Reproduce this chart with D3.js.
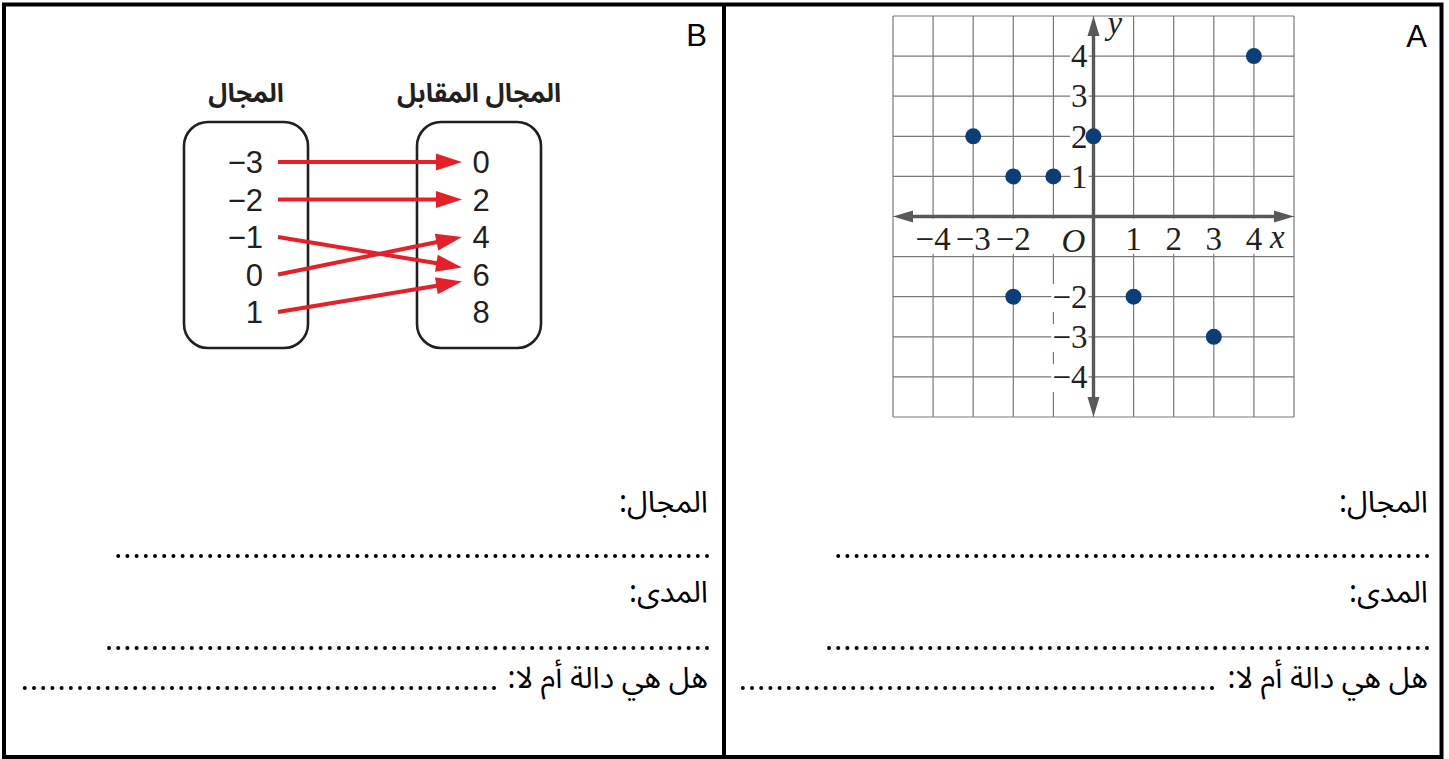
<!DOCTYPE html>
<html lang="ar">
  <head>
    <meta charset="UTF-8" />
    <title>Domain and range worksheet</title>
    <script src="https://d3js.org/d3.v7.min.js"></script>
    <style>
      body {
        margin: 0;
        background: #fff;
      }
      svg {
        display: block;
        background: #fff;
      }
      .arabic {
        font-family: 'Noto Sans Arabic', 'DejaVu Sans', sans-serif;
      }
      .serif {
        font-family: 'Liberation Serif', 'DejaVu Serif', serif;
      }
      .sans {
        font-family: 'Liberation Sans', Arial, sans-serif;
      }
    </style>
  </head>
  <body>
    <svg width="1449" height="759"></svg>

    <script>
      // Panel A: plotted points
      const pointsX = [-3, -2, -1, 0, 4, -2, 1, 3];
      const pointsY = [2, 1, 1, 2, 4, -2, -2, -3];
      const xTickLabels = [-4, -3, -2, 1, 2, 3, 4];
      const yTickLabels = [4, 3, 2, 1, -2, -3, -4];
      const gridValues = d3.range(-5, 6);

      // Panel B: mapping diagram
      const domainValues = [-3, -2, -1, 0, 1];
      const rangeValues = [0, 2, 4, 6, 8];
      const mapFrom = [-3, -2, -1, 0, 1];
      const mapTo = [0, 2, 6, 4, 6];

      // Worksheet text
      const titleDomain = 'المجال';
      const titleCodomain = 'المجال المقابل';
      const lblDomain = 'المجال:';
      const lblRange = 'المدى:';
      const lblFunction = 'هل هي دالة أم لا:';

      const fmt = (v) => (v < 0 ? '\u2212' + Math.abs(v) : String(v));

      const svg = d3.select('svg');

      // frame
      svg
        .append('rect')
        .attr('x', 4)
        .attr('y', 4.5)
        .attr('width', 1437.5)
        .attr('height', 752.5)
        .attr('fill', 'none')
        .attr('stroke', '#000')
        .attr('stroke-width', 4);
      svg
        .append('line')
        .attr('x1', 724)
        .attr('x2', 724)
        .attr('y1', 4)
        .attr('y2', 757)
        .attr('stroke', '#000')
        .attr('stroke-width', 4);

      svg
        .append('text')
        .attr('class', 'sans')
        .attr('x', 1427)
        .attr('y', 47)
        .attr('text-anchor', 'end')
        .attr('font-size', 31)
        .text('A');
      svg
        .append('text')
        .attr('class', 'sans')
        .attr('x', 707)
        .attr('y', 46)
        .attr('text-anchor', 'end')
        .attr('font-size', 31)
        .text('B');

      // ---------- Panel A: coordinate plane ----------
      const x = d3.scaleLinear().domain([-5, 5]).range([893, 1294]);
      const y = d3.scaleLinear().domain([-5, 5]).range([417, 16]);
      const gA = svg.append('g');

      gA.selectAll('line.gx')
        .data(gridValues)
        .join('line')
        .attr('x1', (d) => x(d))
        .attr('x2', (d) => x(d))
        .attr('y1', y(-5))
        .attr('y2', y(5))
        .attr('stroke', '#77787b')
        .attr('stroke-width', 1.2);
      gA.selectAll('line.gy')
        .data(gridValues)
        .join('line')
        .attr('y1', (d) => y(d))
        .attr('y2', (d) => y(d))
        .attr('x1', x(-5))
        .attr('x2', x(5))
        .attr('stroke', '#77787b')
        .attr('stroke-width', 1.2);

      // white band under x labels
      gA.append('rect')
        .attr('x', x(-4.85))
        .attr('y', y(0) + 2)
        .attr('width', x(4.85) - x(-4.85))
        .attr('height', y(-0.93) - y(0) - 2)
        .attr('fill', '#fff');

      // axes with arrowheads
      const axisCol = '#58595b';
      const head = 20,
        half = 6;
      gA.append('line')
        .attr('x1', x(-5) + head - 2)
        .attr('x2', x(5) - head + 2)
        .attr('y1', y(0))
        .attr('y2', y(0))
        .attr('stroke', axisCol)
        .attr('stroke-width', 3.4);
      gA.append('line')
        .attr('y1', y(5) + head - 2)
        .attr('y2', y(-5) - head + 2)
        .attr('x1', x(0))
        .attr('x2', x(0))
        .attr('stroke', axisCol)
        .attr('stroke-width', 3.4);
      const arrows = [
        [x(-5), y(0), 1, 0],
        [x(5), y(0), -1, 0],
        [x(0), y(5), 0, 1],
        [x(0), y(-5), 0, -1],
      ];
      gA.selectAll('path.ah')
        .data(arrows)
        .join('path')
        .attr('d', ([tx, ty, dx, dy]) => {
          const bx = tx + dx * head,
            by = ty + dy * head;
          return `M${tx},${ty}L${bx - dy * half},${by + dx * half}L${bx + dy * half},${by - dx * half}Z`;
        })
        .attr('fill', axisCol);

      // y tick labels with white backing
      const yl = gA
        .selectAll('g.yl')
        .data(yTickLabels)
        .join('g');
      yl.append('text')
        .attr('class', 'serif')
        .attr('x', x(0) - 6)
        .attr('y', (d) => y(d))
        .attr('dy', '0.34em')
        .attr('text-anchor', 'end')
        .attr('font-size', 33)
        .attr('fill', '#231f20')
        .text((d) => fmt(d));
      yl.each(function () {
        const t = d3.select(this).select('text');
        const b = t.node().getBBox();
        d3.select(this)
          .insert('rect', 'text')
          .attr('x', b.x - 1)
          .attr('y', b.y + 5)
          .attr('width', b.width + 2)
          .attr('height', b.height - 8)
          .attr('fill', '#fff');
      });

      gA.selectAll('text.xl')
        .data(xTickLabels)
        .join('text')
        .attr('class', 'serif')
        .attr('x', (d) => x(d))
        .attr('y', y(0) + 33)
        .attr('text-anchor', 'middle')
        .attr('font-size', 33)
        .attr('fill', '#231f20')
        .text((d) => fmt(d));

      gA.append('text')
        .attr('class', 'serif')
        .attr('x', x(-0.8))
        .attr('y', y(0) + 35)
        .attr('font-size', 33)
        .attr('font-style', 'italic')
        .attr('fill', '#231f20')
        .text('O');
      gA.append('text')
        .attr('class', 'serif')
        .attr('x', x(4.4))
        .attr('y', y(0) + 31)
        .attr('font-size', 33)
        .attr('font-style', 'italic')
        .attr('fill', '#231f20')
        .text('x');
      gA.append('text')
        .attr('class', 'serif')
        .attr('x', x(0.35))
        .attr('y', y(4.55))
        .attr('font-size', 33)
        .attr('font-style', 'italic')
        .attr('fill', '#231f20')
        .text('y');

      gA.selectAll('circle')
        .data(pointsX.map((v, i) => ({ px: v, py: pointsY[i] })))
        .join('circle')
        .attr('cx', (d) => x(d.px))
        .attr('cy', (d) => y(d.py))
        .attr('r', 8)
        .attr('fill', '#0b3d78');

      // ---------- Panel B: mapping diagram ----------
      const gB = svg.append('g');
      const row = d3
        .scalePoint()
        .domain(d3.range(domainValues.length))
        .range([162, 312]);
      const boxes = [
        { x: 184, title: titleDomain },
        { x: 417, title: titleCodomain },
      ];
      gB.selectAll('rect.box')
        .data(boxes)
        .join('rect')
        .attr('x', (d) => d.x)
        .attr('y', 122)
        .attr('width', 124)
        .attr('height', 226)
        .attr('rx', 24)
        .attr('fill', '#fff')
        .attr('stroke', '#231f20')
        .attr('stroke-width', 2.6);
      gB.selectAll('text.title')
        .data(boxes)
        .join('text')
        .attr('class', 'arabic')
        .attr('x', (d) => d.x + 62)
        .attr('y', 102)
        .attr('text-anchor', 'middle')
        .attr('font-size', 26)
        .attr('font-weight', 'bold')
        .attr('fill', '#231f20')
        .text((d) => d.title);

      gB.selectAll('text.dom')
        .data(domainValues)
        .join('text')
        .attr('class', 'sans')
        .attr('x', 263)
        .attr('y', (d, i) => row(i))
        .attr('dy', '0.36em')
        .attr('text-anchor', 'end')
        .attr('font-size', 31)
        .attr('fill', '#231f20')
        .text((d) => fmt(d));
      gB.selectAll('text.rng')
        .data(rangeValues)
        .join('text')
        .attr('class', 'sans')
        .attr('x', 481)
        .attr('y', (d, i) => row(i))
        .attr('dy', '0.36em')
        .attr('text-anchor', 'middle')
        .attr('font-size', 31)
        .attr('fill', '#231f20')
        .text((d) => d);

      // arrows; arrows landing on the same value are spread apart
      const links = mapFrom.map((f, i) => {
        const to = mapTo[i];
        const same = mapTo.filter((t) => t === to).length;
        const k = mapTo.slice(0, i).filter((t) => t === to).length;
        return {
          x0: 278,
          y0: row(domainValues.indexOf(f)),
          x1: 462,
          y1: row(rangeValues.indexOf(to)) + (k - (same - 1) / 2) * 14,
        };
      });
      const aLen = 26,
        aHalf = 8.5;
      links.forEach((l) => {
        const ang = Math.atan2(l.y1 - l.y0, l.x1 - l.x0);
        const c = Math.cos(ang),
          s = Math.sin(ang);
        const bx = l.x1 - aLen * c,
          by = l.y1 - aLen * s;
        gB.append('line')
          .attr('x1', l.x0)
          .attr('y1', l.y0)
          .attr('x2', bx + 2 * c)
          .attr('y2', by + 2 * s)
          .attr('stroke', '#e5202a')
          .attr('stroke-width', 4);
        gB.append('path')
          .attr(
            'd',
            `M${l.x1},${l.y1}L${bx - aHalf * s},${by + aHalf * c}L${bx + aHalf * s},${by - aHalf * c}Z`,
          )
          .attr('fill', '#e5202a');
      });

      // ---------- Question lines (both panels) ----------
      const panels = [
        { right: 708, d1: 118, d2: 108, d3: [23, 494] },
        { right: 1428, d1: 836, d2: 828, d3: [741, 1212] },
      ];
      panels.forEach((p) => {
        const g = svg.append('g');
        const lbl = [
          [lblDomain, 512],
          [lblRange, 602],
          [lblFunction, 688],
        ];
        g.selectAll('text')
          .data(lbl)
          .join('text')
          .attr('class', 'arabic')
          .attr('x', p.right)
          .attr('y', (d) => d[1])
          .attr('direction', 'rtl')
          .attr('text-anchor', 'start')
          .attr('font-size', 30)
          .attr('fill', '#000')
          .text((d) => d[0]);
        const dots = [
          [p.d1, p.right - 1, 556],
          [p.d2, p.right - 1, 648],
          [p.d3[0], p.d3[1], 688],
        ];
        g.selectAll('line')
          .data(dots)
          .join('line')
          .attr('x1', (d) => d[1])
          .attr('x2', (d) => d[0])
          .attr('y1', (d) => d[2])
          .attr('y2', (d) => d[2])
          .attr('stroke', '#000')
          .attr('stroke-width', 4)
          .attr('stroke-linecap', 'round')
          .attr('stroke-dasharray', '0 9.2');
      });
    </script>
  </body>
</html>
